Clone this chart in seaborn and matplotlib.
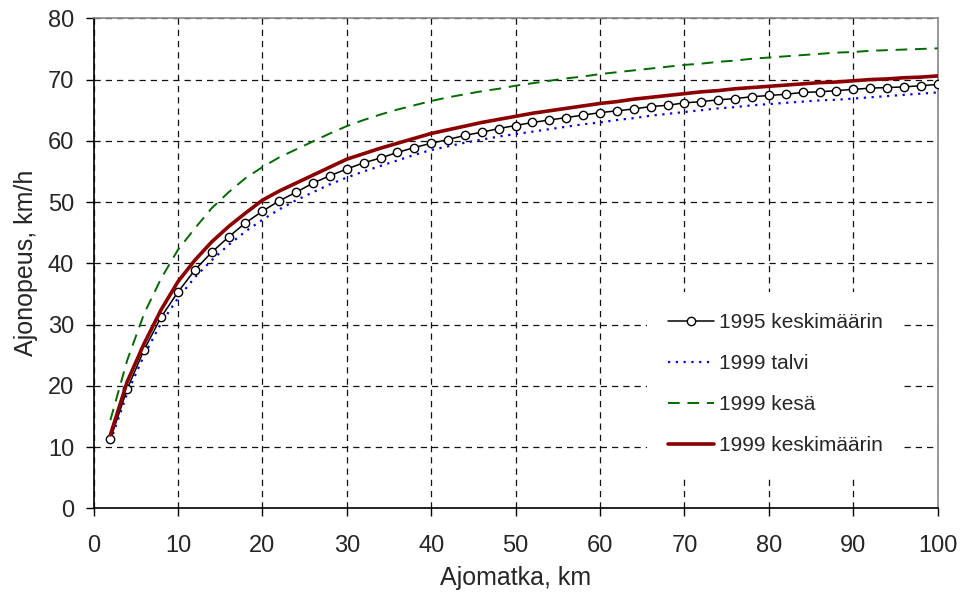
import matplotlib
matplotlib.use("Agg")
import matplotlib.pyplot as plt
import seaborn as sns
import numpy as np

# ajomatka, km (2 km:n välein)
matka = list(range(2, 101, 2))

# ajonopeus, km/h
v1995_ka = [11.3, 19.5, 25.9, 31.2, 35.3, 38.9, 41.8, 44.3, 46.6, 48.5,
            50.2, 51.6, 53.1, 54.3, 55.4, 56.4, 57.2, 58.1, 58.9, 59.6,
            60.2, 60.9, 61.4, 62.0, 62.5, 63.0, 63.4, 63.8, 64.2, 64.6,
            64.9, 65.2, 65.6, 65.8, 66.2, 66.4, 66.7, 66.9, 67.2, 67.4,
            67.6, 67.9, 68.0, 68.2, 68.4, 68.6, 68.7, 68.8, 69.0, 69.2]
v1999_talvi = [10.9, 18.8, 25.0, 30.2, 34.3, 37.7, 40.5, 43.0, 45.2, 47.1,
               48.8, 50.3, 51.6, 52.9, 54.0, 55.0, 55.9, 56.8, 57.7, 58.5,
               59.1, 59.7, 60.2, 60.7, 61.1, 61.5, 61.9, 62.3, 62.7, 63.0,
               63.4, 63.7, 64.1, 64.4, 64.7, 65.0, 65.3, 65.5, 65.8, 66.0,
               66.2, 66.4, 66.6, 66.7, 66.9, 67.1, 67.3, 67.5, 67.7, 67.9]
v1999_kesa = [14.4, 24.2, 31.8, 37.5, 42.2, 45.7, 49.0, 51.6, 53.9, 55.7,
              57.3, 58.6, 59.9, 61.2, 62.4, 63.4, 64.3, 65.1, 65.8, 66.5,
              67.1, 67.6, 68.1, 68.5, 69.0, 69.4, 69.8, 70.2, 70.5, 70.9,
              71.2, 71.5, 71.8, 72.1, 72.4, 72.6, 72.9, 73.1, 73.4, 73.6,
              73.8, 74.0, 74.2, 74.4, 74.5, 74.7, 74.8, 74.9, 75.0, 75.1]
v1999_ka = [12.0, 20.7, 26.9, 32.4, 37.0, 40.5, 43.5, 46.0, 48.2, 50.3,
            51.8, 53.1, 54.4, 55.7, 57.0, 57.9, 58.8, 59.6, 60.4, 61.2,
            61.8, 62.4, 63.0, 63.5, 64.0, 64.5, 64.9, 65.3, 65.7, 66.1,
            66.4, 66.8, 67.1, 67.4, 67.7, 68.0, 68.2, 68.5, 68.7, 68.9,
            69.1, 69.3, 69.5, 69.6, 69.8, 70.0, 70.1, 70.3, 70.4, 70.6]

sns.set_style("white")
plt.rcParams['font.family'] = ['Liberation Sans', 'DejaVu Sans']

fig = plt.figure(figsize=(9.69, 5.97), dpi=100)
ax = fig.add_axes([0.0965, 0.1486, 0.8712, 0.8207])

sns.lineplot(x=matka, y=v1995_ka, ax=ax, color='black', lw=1.1,
             marker='o', markersize=6, markerfacecolor='white',
             markeredgecolor='black', markeredgewidth=1.0,
             label='1995 keskimäärin', zorder=4)
sns.lineplot(x=matka, y=v1999_talvi, ax=ax, color='#0000ee', lw=1.6,
             linestyle=(0, (1, 2.5)), label='1999 talvi', zorder=3)
sns.lineplot(x=matka, y=v1999_kesa, ax=ax, color='#006a00', lw=1.4,
             linestyle=(0, (6, 4)), label='1999 kesä', zorder=3)
sns.lineplot(x=matka, y=v1999_ka, ax=ax, color='#8b0000', lw=2.6,
             label='1999 keskimäärin', zorder=5)

ax.set_xlim(0, 100)
ax.set_ylim(0, 80)
ax.set_xticks(range(0, 101, 10))
ax.set_yticks(range(0, 81, 10))
ax.grid(True, color='#111111', linestyle=(0, (5, 4)), linewidth=0.9)
ax.set_axisbelow(True)

for s in ['left', 'bottom']:
    ax.spines[s].set_color('black')
    ax.spines[s].set_linewidth(1.2)
for s in ['top', 'right']:
    ax.spines[s].set_color('#888888')
    ax.spines[s].set_linewidth(1.2)

ax.tick_params(axis='both', direction='out', length=6, width=1,
               color='black', labelsize=17)
ax.tick_params(axis='x', pad=13, bottom=True)
ax.tick_params(axis='y', pad=8, left=True)

ax.set_xlabel('Ajomatka, km', fontsize=18, labelpad=7)
ax.set_ylabel('Ajonopeus, km/h', fontsize=18, labelpad=7)

leg = ax.legend(loc='upper left', bbox_to_anchor=(0.656, 0.441),
                borderaxespad=0, fontsize=15, frameon=True, fancybox=False,
                handlelength=2.2, handletextpad=0.25, labelspacing=1.06,
                borderpad=1.0)
leg.get_frame().set_facecolor('white')
leg.get_frame().set_edgecolor('none')
leg.get_frame().set_alpha(1)

fig.savefig('out.png', dpi=100)
